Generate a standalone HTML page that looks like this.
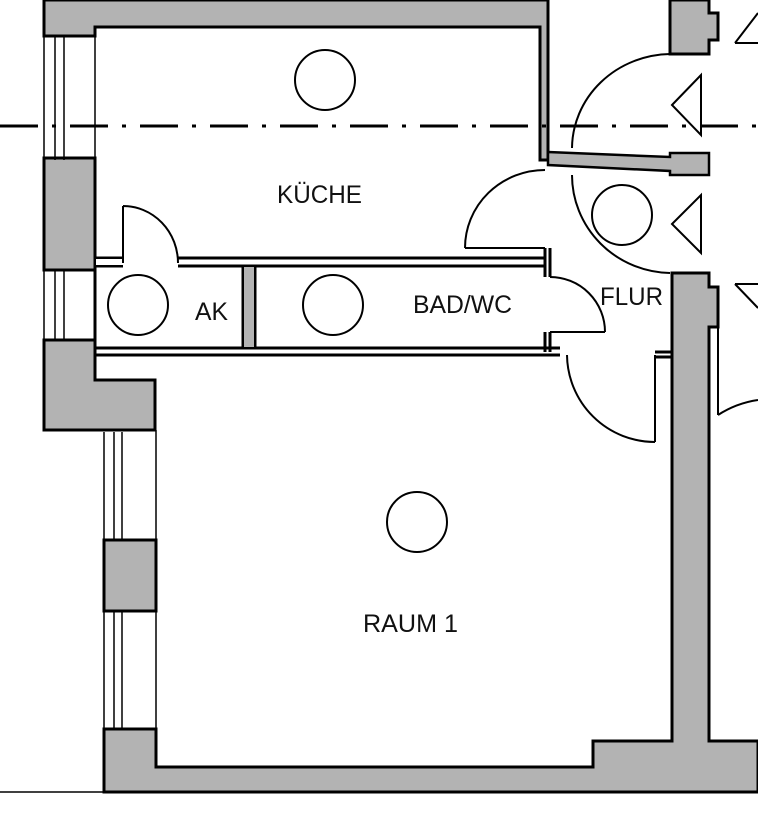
<!DOCTYPE html>
<html><head><meta charset="utf-8"><style>
html,body{margin:0;padding:0;background:#fff;}
svg{display:block;}
</style></head><body>
<svg width="758" height="830" viewBox="0 0 758 830" xmlns="http://www.w3.org/2000/svg">
<rect width="758" height="830" fill="#fff"/>
<g fill="#b3b3b3" stroke="#000" stroke-width="3">
<path d="M44 0 H548 V160 H540 V27 H95 V36 H44 Z"/>
<path d="M44 158 H95 V270 H44 Z"/>
<path d="M44 340 H95 V380 H155 V430 H44 Z"/>
<path d="M104 540 H156 V611 H104 Z"/>
<path d="M104 729 H156 V767 H593 V741 H672 V273 H709 V287 H718 V327 H709 V741 H758 V792 H104 Z"/>
<path d="M670 0 H709 V13 H718 V40 H709 V54 H670 Z"/>
<path d="M548 152 L670 157 V153 H709 V175 H670 V171 L548 165 Z" stroke-width="2.5"/>
</g>
<g fill="none" stroke="#000" stroke-width="1.5">
<path d="M44 36 V160 M55 36 V160 M64 36 V160 M95 36 V160"/>
<path d="M44 270 V340 M55 270 V340 M64 270 V340"/>
<path d="M104 432 V540 M114 432 V540 M122 432 V540 M156 432 V540"/>
<path d="M104 611 V729 M114 611 V729 M122 611 V729 M156 611 V729"/>
<path d="M156 430 V432"/>
<line x1="0" y1="792" x2="104" y2="792"/>
</g>
<g fill="none" stroke="#000" stroke-width="3">
<path d="M95 160 V270 M95 340 V355"/>
<path d="M95 258 H123 M178 258 H545 M95 266 H123 M178 266 H545"/>
<path d="M95 348 H560 M95 355 H560"/>
<path d="M95 266 V348"/>
<path d="M243 266 V348 M255 266 V348"/>
<path d="M545 248 V277 M550 248 V277 M545 332 V352 M550 332 V352"/>
<path d="M655 352 H672 M655 357 H672"/>
</g>
<rect x="244" y="267" width="10" height="80" fill="#b3b3b3"/>
<rect x="96" y="259" width="27" height="6" fill="#fff"/>
<g fill="none" stroke="#000" stroke-width="2">
<path d="M123 206 V263 M123 206 A55 57 0 0 1 178 263"/>
<path d="M465 248 H545 M465 248 A80 78 0 0 1 545 170"/>
<path d="M550 332 H605 M550 277 A55 55 0 0 1 605 332"/>
<path d="M655 355 V442 M567 355 A88 88 0 0 0 655 442"/>
<path d="M572 148 A100 95 0 0 1 670 54"/>
<path d="M572 175 A100 98 0 0 0 670 273"/>
<path d="M718 327 V415 M718 415 A100 100 0 0 1 758 400"/>
<path d="M672 105 L701 75 V135 Z M672 224 L701 195 V253 Z"/>
<path d="M735 43 L758 13 M735 43 H758"/>
<path d="M735 284 H758 M735 284 L758 308"/>
</g>
<line x1="0" y1="126" x2="758" y2="126" stroke="#000" stroke-width="3" stroke-dasharray="38,14,4,14"/>
<g fill="#fff" stroke="#000" stroke-width="2">
<circle cx="325" cy="80" r="30"/>
<circle cx="138" cy="305" r="30"/>
<circle cx="333" cy="305" r="30"/>
<circle cx="622" cy="215" r="30"/>
<circle cx="417" cy="522" r="30"/>
</g>
<g font-family="Liberation Sans, sans-serif" font-size="25" fill="#111">
<text x="277" y="203" textLength="85" lengthAdjust="spacingAndGlyphs">KÜCHE</text>
<text x="195" y="320" textLength="33" lengthAdjust="spacingAndGlyphs">AK</text>
<text x="413" y="313" textLength="99" lengthAdjust="spacingAndGlyphs">BAD/WC</text>
<text x="600" y="305" textLength="63" lengthAdjust="spacingAndGlyphs">FLUR</text>
<text x="363" y="632" textLength="95" lengthAdjust="spacingAndGlyphs">RAUM 1</text>
</g>
</svg>
</body></html>
